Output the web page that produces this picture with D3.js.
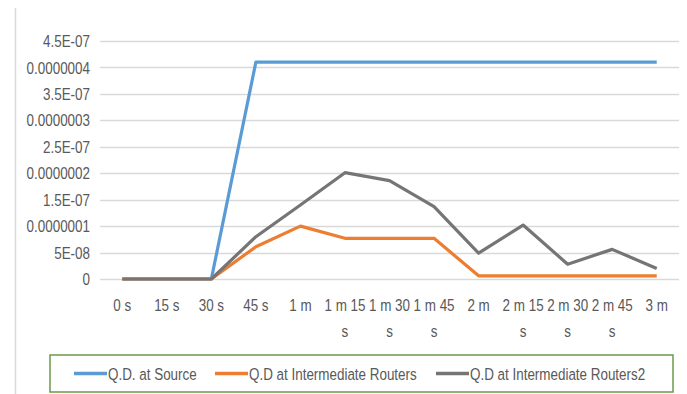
<!DOCTYPE html>
<html><head><meta charset="utf-8">
<script src="https://cdn.jsdelivr.net/npm/d3@7"></script>
<style>
html,body{margin:0;padding:0;background:#fff;}
text{font-family:"Liberation Sans",Arial,sans-serif;fill:#595959;}
</style></head>
<body><svg id="c" width="687" height="394"></svg>
<script>
const categories = ["0 s","15 s","30 s","45 s","1 m","1 m 15 s","1 m 30 s","1 m 45 s","2 m","2 m 15 s","2 m 30 s","2 m 45 s","3 m"];
const sourceQD = [0,0,0,4.1e-7,4.1e-7,4.1e-7,4.1e-7,4.1e-7,4.1e-7,4.1e-7,4.1e-7,4.1e-7,4.1e-7];
const routersQD = [0,0,0,6.1e-8,1.0e-7,7.7e-8,7.7e-8,7.7e-8,6e-9,6e-9,6e-9,6e-9,6e-9];
const routers2QD = [0,0,0,8.0e-8,1.4e-7,2.01e-7,1.86e-7,1.37e-7,4.9e-8,1.02e-7,2.8e-8,5.6e-8,2.0e-8];
const yTicks = [0,5e-8,1e-7,1.5e-7,2e-7,2.5e-7,3e-7,3.5e-7,4e-7,4.5e-7];
const yTickLabels = ["0","5E-08","0.0000001","1.5E-07","0.0000002","2.5E-07","0.0000003","3.5E-07","0.0000004","4.5E-07"];
const seriesNames = ["Q.D. at Source","Q.D at Intermediate Routers","Q.D at Intermediate Routers2"];
const seriesColors = ["#5B9BD5","#ED7D31","#757575"];

const SX = 0.79, FS = "17px";
const svg = d3.select("#c");
const x = d3.scalePoint().domain(categories).range([100,679]).padding(0.5);
const y = d3.scaleLinear().domain([0,4.5e-7]).range([279,41]);

function sText(parent, px, py, anchor){
  const g = parent.append("g").attr("transform",`translate(${px},${py}) scale(${SX},1)`);
  return g.append("text").attr("text-anchor",anchor).style("font-size",FS);
}

// outer left border
svg.append("line").attr("x1",15.5).attr("x2",15.5).attr("y1",8).attr("y2",394).attr("stroke","#d9d9d9").attr("stroke-width",1.5);

// gridlines
svg.append("g").selectAll("line").data(yTicks).join("line")
  .attr("x1",100).attr("x2",679)
  .attr("y1",d=>Math.round(y(d))+0.5).attr("y2",d=>Math.round(y(d))+0.5)
  .attr("stroke","#d9d9d9").attr("stroke-width",1.5);

// y labels
const yg = svg.append("g");
yTicks.forEach((d,i)=>{
  sText(yg, 90, y(d), "end").attr("dy","0.36em").text(yTickLabels[i]);
});

// x labels with wrapping
const bw = (x.step()-2)/SX;
const xg = svg.append("g");
categories.forEach(c=>{
  const t = sText(xg, x(c), 311, "middle");
  const words = c.split(" ");
  let line = [];
  let ts = t.append("tspan").attr("x",0).attr("dy",0);
  words.forEach(w=>{
    line.push(w);
    ts.text(line.join(" "));
    if (ts.node().getComputedTextLength() > bw && line.length>1){
      line.pop(); ts.text(line.join(" "));
      line=[w];
      ts = t.append("tspan").attr("x",0).attr("dy","26px").text(w);
    }
  });
});

// lines
const allSeries = [sourceQD, routersQD, routers2QD];
const lineGen = d3.line().x((d,i)=>x(categories[i])).y(d=>y(d));
allSeries.forEach((s,k)=>{
  svg.append("path").datum(s).attr("d",lineGen).attr("fill","none")
    .attr("stroke",seriesColors[k]).attr("stroke-width",3.2)
    .attr("stroke-linejoin","round").attr("stroke-linecap","butt");
});

// legend
svg.append("rect").attr("x",50).attr("y",355).attr("width",623).attr("height",37)
  .attr("fill","#fff").attr("stroke","#6a9a4a").attr("stroke-width",1.5);
const legX = [74,215,436];
const lg = svg.append("g");
seriesNames.forEach((n,k)=>{
  lg.append("line").attr("x1",legX[k]).attr("x2",legX[k]+33).attr("y1",373.5).attr("y2",373.5)
    .attr("stroke",seriesColors[k]).attr("stroke-width",3.5);
  sText(lg, legX[k]+34, 373.5, "start").attr("dy","0.36em").text(n);
});
</script></body></html>
